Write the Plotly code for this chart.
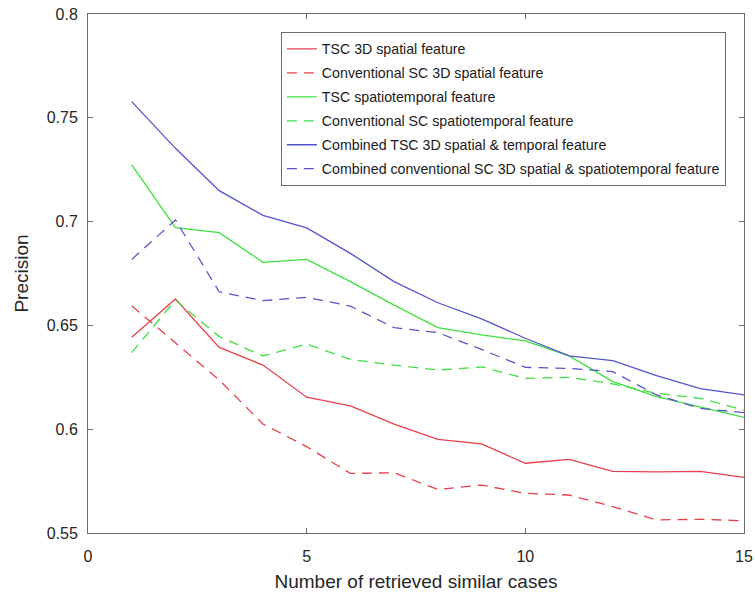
import plotly.graph_objects as go

x_cases = list(range(1, 16))

tsc_spatial = [0.6443, 0.6627, 0.6394, 0.6309, 0.6154, 0.6112, 0.6024, 0.5951, 0.5929, 0.5836, 0.5855, 0.5797, 0.5794, 0.5797, 0.5768]
conv_spatial = [0.6595, 0.6414, 0.6237, 0.6025, 0.5916, 0.5787, 0.5790, 0.5710, 0.5731, 0.5691, 0.5683, 0.5627, 0.5563, 0.5566, 0.5559]
tsc_spatiotemporal = [0.7273, 0.6971, 0.6947, 0.6804, 0.6818, 0.6711, 0.6598, 0.6489, 0.6454, 0.6425, 0.6353, 0.6229, 0.6157, 0.6108, 0.6057]
conv_spatiotemporal = [0.6369, 0.6622, 0.6446, 0.6353, 0.6410, 0.6336, 0.6309, 0.6285, 0.6300, 0.6245, 0.6250, 0.6218, 0.6173, 0.6149, 0.6092]
combined_tsc = [0.7578, 0.7353, 0.7149, 0.7030, 0.6970, 0.6847, 0.6711, 0.6609, 0.6531, 0.6438, 0.6353, 0.6330, 0.6258, 0.6195, 0.6165]
combined_conv = [0.6818, 0.7008, 0.6662, 0.6619, 0.6635, 0.6593, 0.6489, 0.6465, 0.6384, 0.6298, 0.6293, 0.6277, 0.6165, 0.6100, 0.6080]

series_names = [
    "TSC 3D spatial feature",
    "Conventional SC 3D spatial feature",
    "TSC spatiotemporal feature",
    "Conventional SC spatiotemporal feature",
    "Combined TSC 3D spatial & temporal feature",
    "Combined conventional SC 3D spatial & spatiotemporal feature",
]
series_values = [tsc_spatial, conv_spatial, tsc_spatiotemporal, conv_spatiotemporal, combined_tsc, combined_conv]
series_colors = ["#e8404c", "#e8404c", "#3ee03e", "#3ee03e", "#5555cc", "#5555cc"]
series_dash = ["solid", "10px,7px", "solid", "10px,7px", "solid", "10px,7px"]

x_tickvals = [0, 5, 10, 15]
y_tickvals = [0.55, 0.6, 0.65, 0.7, 0.75, 0.8]
y_ticktext = ["0.55", "0.6", "0.65", "0.7", "0.75", "0.8"]

fig = go.Figure()
for i, (name, vals, col, dash) in enumerate(zip(series_names, series_values, series_colors, series_dash)):
    fig.add_trace(go.Scatter(
        x=x_cases, y=vals, mode="lines", name=name,
        line=dict(color=col, width=1.3, dash=dash),
        legendgroup=f"g{i}",
    ))

axis_common = dict(
    showline=True, linecolor="#6a6a6a", linewidth=1, mirror="ticks",
    ticks="inside", ticklen=5, tickcolor="#6a6a6a", showgrid=False, zeroline=False,
    automargin=False,
    tickfont=dict(family="Arial, Liberation Sans, sans-serif", size=16, color="#262626"),
)

fig.update_layout(
    width=755, height=595,
    margin=dict(l=88, r=11, t=14, b=62, autoexpand=False),
    paper_bgcolor="white", plot_bgcolor="white",
    font=dict(family="Arial, Liberation Sans, sans-serif", color="#262626"),
    xaxis=dict(range=[0, 15], tickvals=x_tickvals, ticklabelstandoff=9,
               title=dict(text="Number of retrieved similar cases", font=dict(size=19), standoff=10),
               **axis_common),
    yaxis=dict(range=[0.55, 0.8], tickvals=y_tickvals, ticktext=y_ticktext, ticklabelstandoff=6,
               title=dict(text="Precision", font=dict(size=19), standoff=13),
               **axis_common),
    legend=dict(
        x=0.294, y=0.965, xanchor="left", yanchor="top",
        bgcolor="white", bordercolor="#6a6a6a", borderwidth=1,
        font=dict(family="Arial, Liberation Sans, sans-serif", size=14.2, color="#1a1a1a"),
        tracegroupgap=2.5,
    ),
    showlegend=True,
)

fig.write_html("out.html", config={"displayModeBar": False},
               post_script="document.body.style.margin='0';document.body.style.overflow='hidden';")
